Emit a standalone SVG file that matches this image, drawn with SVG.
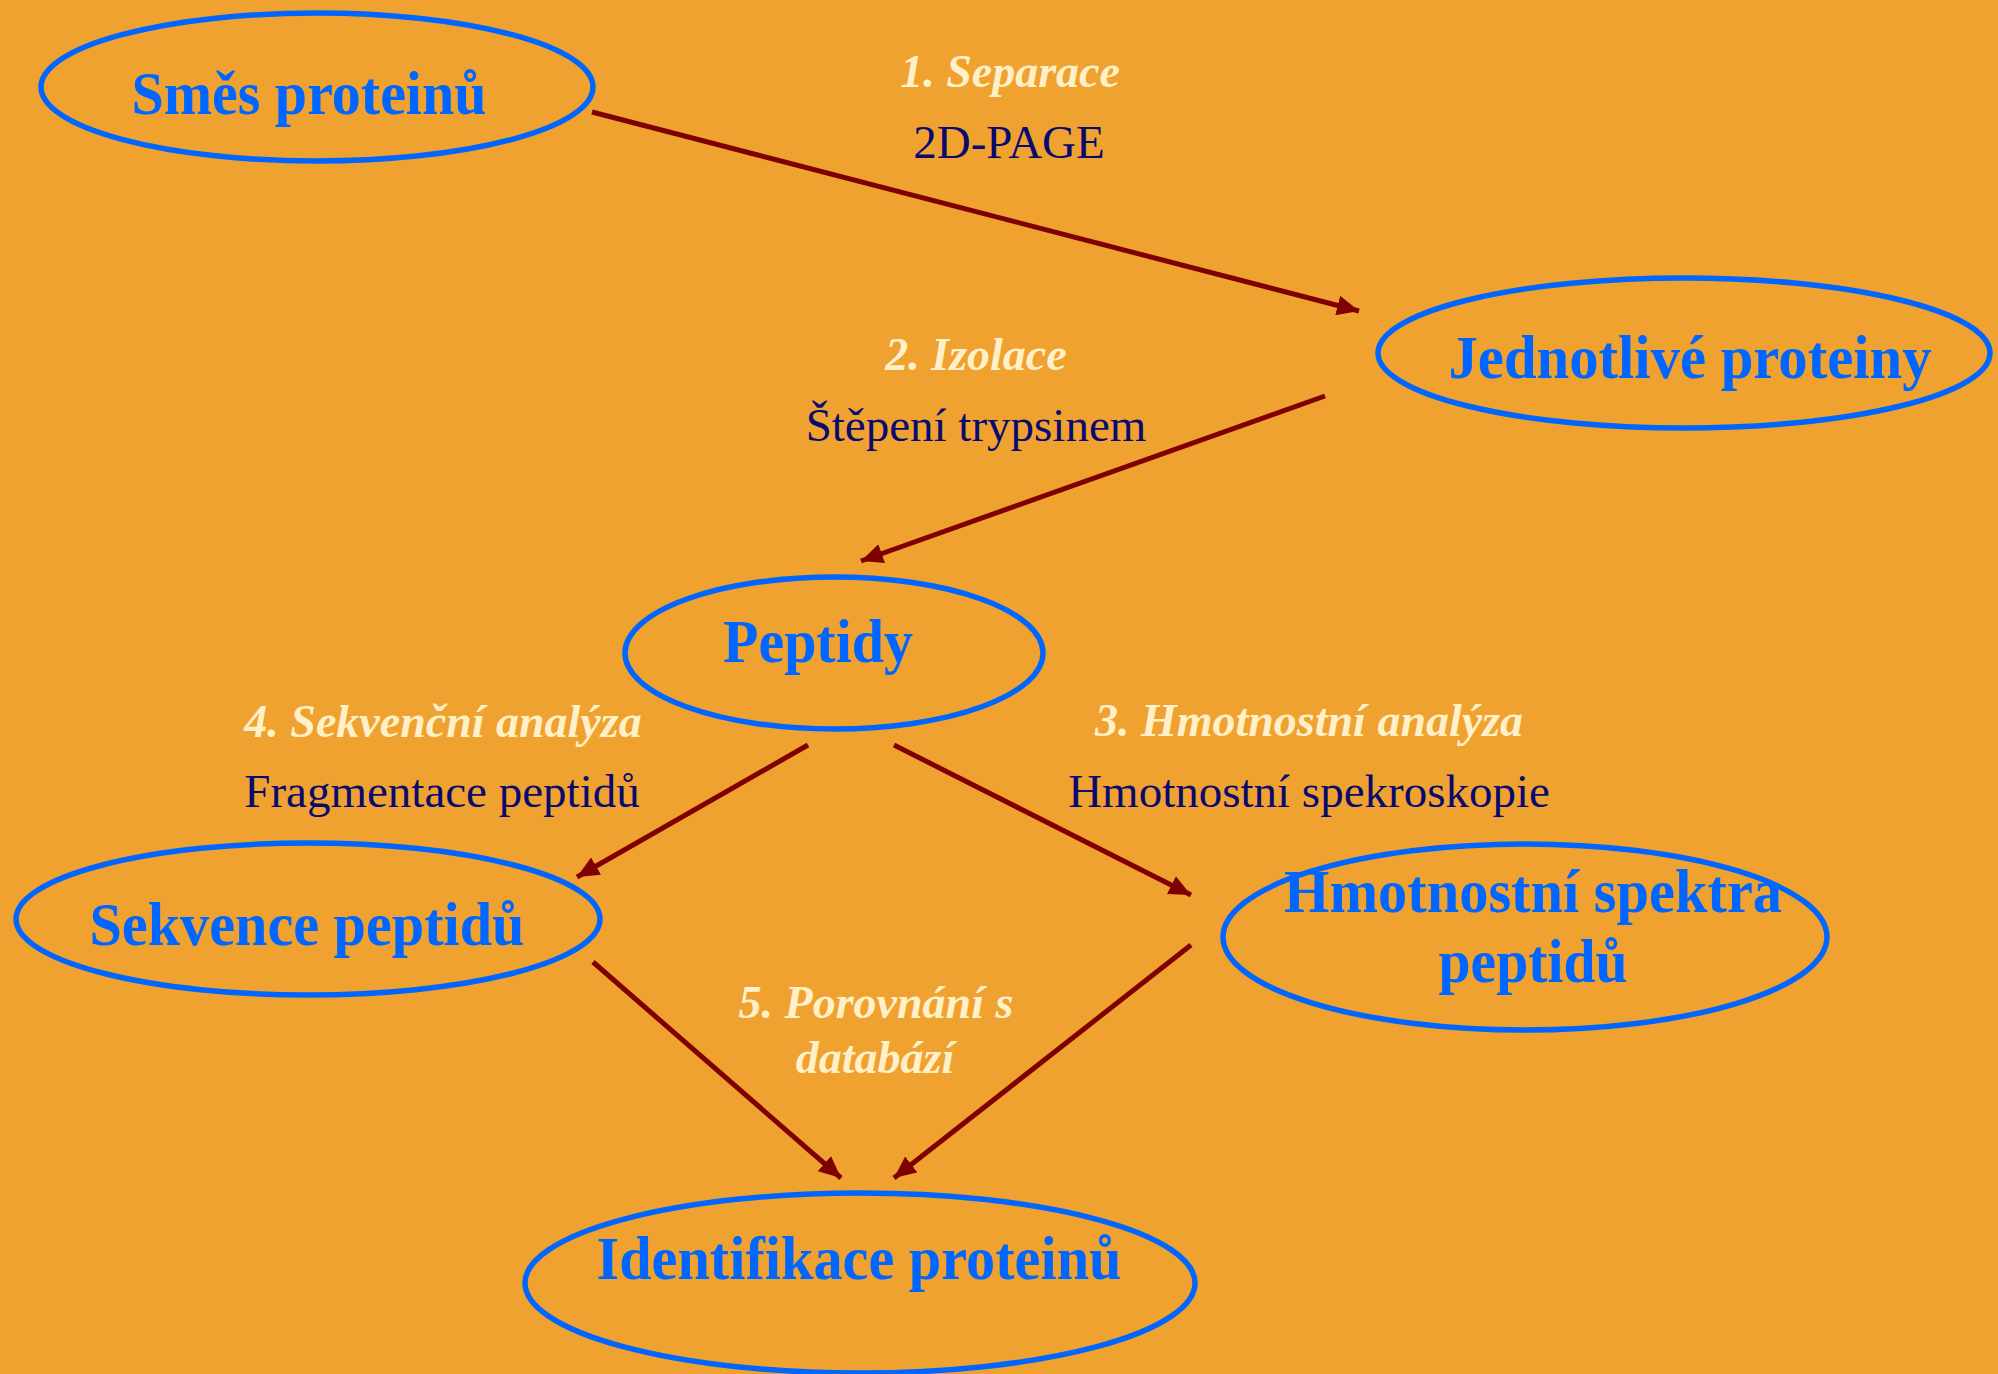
<svg xmlns="http://www.w3.org/2000/svg" width="1998" height="1374" viewBox="0 0 1998 1374">
<style>
.node ellipse{fill:none;stroke:#0066FF;stroke-width:5.5}
.node text{font-family:"Liberation Serif","Times New Roman",serif;font-weight:bold;font-size:61px;fill:#0066FF;text-anchor:middle}
.step{font-family:"Liberation Serif","Times New Roman",serif;font-weight:bold;font-style:italic;font-size:46px;fill:#FFF0C8;text-anchor:middle}
.desc{font-family:"Liberation Serif","Times New Roman",serif;font-size:47px;fill:#0A0A6E;text-anchor:middle}
.conn line{stroke:#7F0000;stroke-width:5;marker-end:url(#ah)}
</style>
<defs>
<marker id="ah" markerUnits="userSpaceOnUse" markerWidth="23" markerHeight="20" refX="22" refY="10" orient="auto">
<path d="M0,0 L22,10 L0,20 z" fill="#7F0000"/>
</marker>
</defs>
<rect width="1998" height="1374" fill="#F0A230"/>
<g id="connectors" class="conn">
<line x1="592" y1="112" x2="1359" y2="311"/>
<line x1="1325" y1="396" x2="861" y2="561"/>
<line x1="808" y1="745" x2="577" y2="877"/>
<line x1="894" y1="745" x2="1191" y2="895"/>
<line x1="593" y1="962" x2="841" y2="1178"/>
<line x1="1191" y1="945" x2="894" y2="1178"/>
</g>
<g id="labels">
<text class="step" x="1010" y="87">1. Separace</text>
<text class="desc" x="1009" y="158">2D-PAGE</text>
<text class="step" x="976" y="370">2. Izolace</text>
<text class="desc" x="976" y="441">Štěpení trypsinem</text>
<text class="step" x="443" y="737">4. Sekvenční analýza</text>
<text class="desc" x="442" y="807">Fragmentace peptidů</text>
<text class="step" x="1309" y="736">3. Hmotnostní analýza</text>
<text class="desc" x="1309" y="807">Hmotnostní spekroskopie</text>
<text class="step" x="876" y="1018">5. Porovnání s</text>
<text class="step" x="875" y="1073">databází</text>
</g>
<g id="n1" class="node">
<ellipse cx="317" cy="87" rx="276" ry="74"/>
<text x="309" y="114" textLength="355" lengthAdjust="spacingAndGlyphs">Směs proteinů</text>
</g>
<g id="n2" class="node">
<ellipse cx="1684" cy="353" rx="306" ry="75"/>
<text x="1690" y="378" textLength="483" lengthAdjust="spacingAndGlyphs">Jednotlivé proteiny</text>
</g>
<g id="n3" class="node">
<ellipse cx="834" cy="653" rx="209" ry="76"/>
<text x="818" y="662" textLength="190" lengthAdjust="spacingAndGlyphs">Peptidy</text>
</g>
<g id="n4" class="node">
<ellipse cx="308" cy="919" rx="292" ry="76"/>
<text x="307" y="945" textLength="435" lengthAdjust="spacingAndGlyphs">Sekvence peptidů</text>
</g>
<g id="n5" class="node">
<ellipse cx="1525" cy="937" rx="302" ry="93"/>
<text x="1533" y="912" textLength="498" lengthAdjust="spacingAndGlyphs">Hmotnostní spektra</text>
<text x="1533" y="982" textLength="189" lengthAdjust="spacingAndGlyphs">peptidů</text>
</g>
<g id="n6" class="node">
<ellipse cx="860" cy="1283" rx="335" ry="90"/>
<text x="859" y="1279" textLength="525" lengthAdjust="spacingAndGlyphs">Identifikace proteinů</text>
</g>
</svg>
